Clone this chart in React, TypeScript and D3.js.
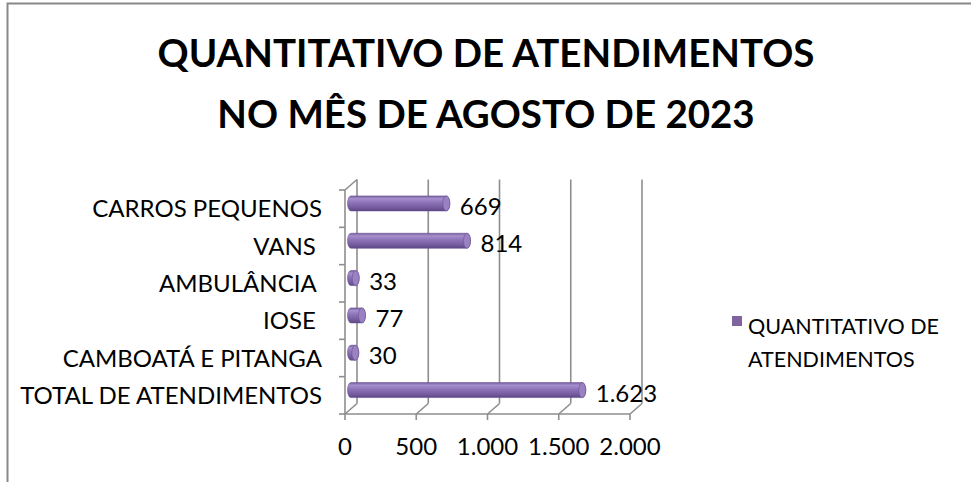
import * as d3 from "d3";

const WIDTH = 971;
const HEIGHT = 482;

const titleLines = ["QUANTITATIVO DE ATENDIMENTOS", "NO MÊS DE AGOSTO DE 2023"];
// trailing spaces are in the original labels
const categories = [
  "CARROS PEQUENOS",
  "VANS ",
  "AMBULÂNCIA ",
  "IOSE ",
  "CAMBOATÁ E PITANGA",
  "TOTAL DE ATENDIMENTOS",
];
const values = [669, 814, 33, 77, 30, 1623];
const xTicks = [0, 500, 1000, 1500, 2000];
const seriesName = ["QUANTITATIVO DE", "ATENDIMENTOS"];

const ptBR = d3.formatLocale({
  decimal: ",",
  thousands: ".",
  grouping: [3],
  currency: ["R$", ""],
});
const fmt = ptBR.format(",d");

const FONT = "Lato, 'Open Sans', sans-serif";
const GRID = "#8e8e8e";

// 3d depth offset of the back wall
const DX = 12;
const DY = -10.5;

export default function App() {
  const x = d3.scaleLinear().domain([0, 2000]).range([345, 630]);
  const y = d3.scaleBand().domain(categories).range([190, 414]).padding(0);

  const x0 = x(0);
  const yTop = y.range()[0];
  const yBot = y.range()[1];
  const ry = 7.5;
  const rx = 3.5;

  const bars = categories.map((c, i) => {
    const cy = (y(c) as number) + y.bandwidth() / 2 + DY / 2;
    const xs = x0 + DX / 2;
    const xe = x(values[i]) + DX / 2;
    const d = `M${xs},${cy - ry} L${xe},${cy - ry} A${rx},${ry} 0 0 1 ${xe},${cy + ry} L${xs},${cy + ry} A${rx},${ry} 0 0 1 ${xs},${cy - ry} Z`;
    return { c, v: values[i], cy, xs, xe, d };
  });

  return (
    <svg
      width={WIDTH}
      height={HEIGHT}
      style={{ position: "absolute", left: 0, top: 0, background: "#fff" }}
      fontFamily={FONT}
    >
      <defs>
        <linearGradient id="cyl" x1="0" y1="0" x2="0" y2="1">
          <stop offset="0%" stopColor="#7a5fa3" />
          <stop offset="18%" stopColor="#a58fcc" />
          <stop offset="45%" stopColor="#8d72b8" />
          <stop offset="80%" stopColor="#735a9c" />
          <stop offset="100%" stopColor="#5b4682" />
        </linearGradient>
      </defs>

      {/* cropped caption descenders from the page above */}
      <text x={32} y={-3} fontSize={18} fill="#000">g</text>
      <text x={340} y={-3} fontSize={18} fill="#000">g</text>

      {/* frame */}
      <path d={`M7.5,${HEIGHT} L7.5,3.5 L${WIDTH},3.5`} fill="none" stroke="#888" strokeWidth={2} />

      {/* title */}
      {titleLines.map((t, i) => (
        <text
          key={t}
          x={486}
          y={67 + i * 61}
          textAnchor="middle"
          fontSize={38.5}
          fontWeight="bold"
          fill="#000"
        >
          {t}
        </text>
      ))}

      {/* back wall gridlines */}
      {xTicks.map((t) => (
        <line
          key={`g${t}`}
          x1={x(t) + DX}
          x2={x(t) + DX}
          y1={yTop + DY}
          y2={yBot + DY}
          stroke={GRID}
          strokeWidth={1.6}
        />
      ))}
      {/* floor diagonals */}
      {xTicks.map((t) => (
        <line
          key={`f${t}`}
          x1={x(t)}
          x2={x(t) + DX}
          y1={yBot}
          y2={yBot + DY}
          stroke={GRID}
          strokeWidth={1.6}
        />
      ))}
      {/* side wall */}
      <line x1={x0} x2={x0} y1={yTop} y2={yBot} stroke={GRID} strokeWidth={1.6} />
      <line x1={x0} x2={x0 + DX} y1={yTop} y2={yTop + DY} stroke={GRID} strokeWidth={1.6} />
      {/* front floor edge */}
      <line x1={x0} x2={x(2000)} y1={yBot} y2={yBot} stroke={GRID} strokeWidth={1.6} />

      {/* category ticks */}
      {[...categories.map((c) => y(c) as number), yBot].map((v, i) => (
        <line key={`ct${i}`} x1={x0 - 6} x2={x0} y1={v} y2={v} stroke={GRID} strokeWidth={1.6} />
      ))}
      {/* value ticks */}
      {xTicks.map((t) => (
        <line key={`vt${t}`} x1={x(t)} x2={x(t)} y1={yBot} y2={yBot + 6} stroke={GRID} strokeWidth={1.6} />
      ))}

      {/* bars */}
      {bars.map((b) => (
        <g key={b.c}>
          <path d={b.d} fill="url(#cyl)" stroke="#6a5294" strokeWidth={0.6} />
          <ellipse cx={b.xe} cy={b.cy} rx={rx} ry={ry} fill="#9a82c2" stroke="#6a5294" strokeWidth={0.6} />
        </g>
      ))}

      {/* value labels */}
      {bars.map((b) => (
        <text
          key={`l${b.c}`}
          x={b.xe + rx + 10}
          y={b.cy + 2}
          dominantBaseline="central"
          fontSize={24}
          fill="#000"
        >
          {fmt(b.v)}
        </text>
      ))}

      {/* category labels */}
      {categories.map((c) => (
        <text
          key={`c${c}`}
          x={322}
          y={(y(c) as number) + y.bandwidth() / 2 + 8.5}
          textAnchor="end"
          fontSize={24}
          fill="#000"
          style={{ whiteSpace: "pre" }}
        >
          {c}
        </text>
      ))}

      {/* x tick labels */}
      {xTicks.map((t) => (
        <text key={`xl${t}`} x={x(t)} y={455} textAnchor="middle" fontSize={24} fill="#000">
          {fmt(t)}
        </text>
      ))}

      {/* legend */}
      <rect x={732} y={316} width={10} height={10} fill="#8064a2" />
      {seriesName.map((s, i) => (
        <text key={s} x={748} y={334 + i * 33} fontSize={21.5} fill="#000">
          {s}
        </text>
      ))}
    </svg>
  );
}
